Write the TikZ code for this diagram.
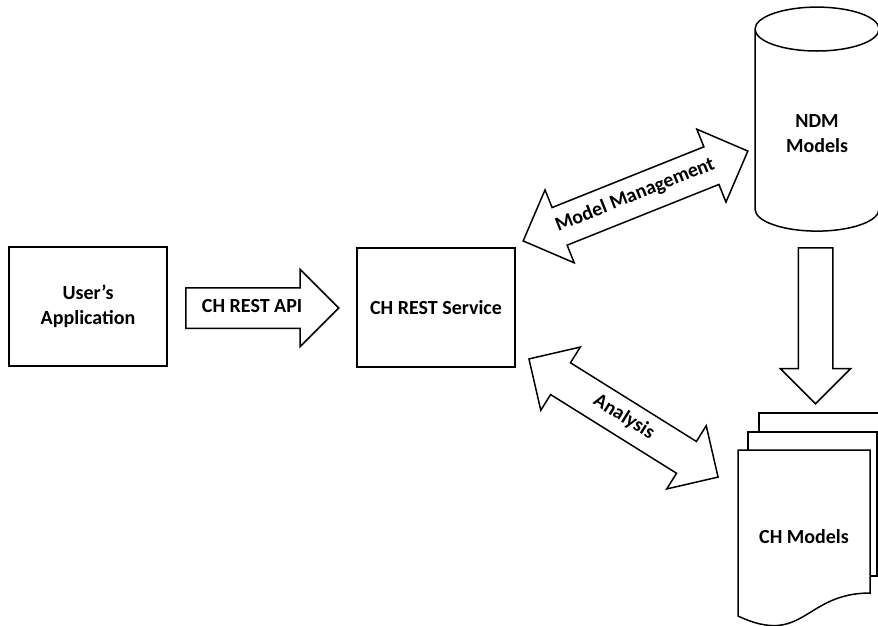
\documentclass[tikz,border=0pt]{standalone}
\usepackage{fontspec}
\setmainfont{Carlito}
\usetikzlibrary{shapes.arrows}
\usetikzlibrary{shapes.geometric}
\tikzstyle{object}=[draw, line width=1.5pt]
\tikzstyle{txt}=[font=\fontsize{20}{25}\selectfont\bfseries, align=center]
\tikzstyle{box}=[object, txt, minimum width=158pt, minimum height=119pt]
\tikzstyle{fat}=[object, txt, fill=white, text height=14pt, text depth=5pt, inner xsep=6pt]

\begin{document}
\begin{tikzpicture}[x=1pt, y=-1pt]
          \clip (0,0) rectangle (878,625);
          \node[box] (app) at (88,306.5) {User’s\\Application};
          \node[box] (service) at (436,307.5) {CH REST Service};
          \node[fat, single arrow, single arrow head extend=18.5pt,
            inner ysep=10pt, minimum height=153pt, anchor=tail]
            (api) at (185,308) {CH REST API};
          \node[object, cylinder, shape border rotate=90, aspect=0.64,
            minimum width=124pt, minimum height=224pt, txt]
            (ndm) at (817,134) {NDM\\Models};
          \node[object, single arrow, single arrow head extend=18pt,
            inner sep=0pt, inner ysep=16.5pt, minimum height=156pt,
            rotate=-90, anchor=tail]
            (feed) at (815.5,247) {};
          \node[fat, double arrow, double arrow head extend=19pt,
            inner ysep=10pt, minimum height=242pt, rotate=21.8]
            (mgmt) at (635.5,196) {Model Management};
          \node[fat, double arrow, double arrow head extend=18.5pt,
            inner ysep=8.5pt, minimum height=223pt, rotate=-32]
            (analysis) at (623.5,418) {Analysis};
          % stacked documents
          \draw[object] (759,432) -- (759,413) -- (890,413)
            -- (890,558) -- (877,558);
          \draw[object] (748,450) -- (748,432) -- (877,432)
            -- (877,576) -- (870,576);
          \draw[object, fill=white] (738,450) -- (870,450) -- (870,593)
            .. controls (804,593) and (804,647) .. (738,616) -- cycle;
          \node[txt] (ch) at (804,537) {CH Models};
        \end{tikzpicture}
\end{document}
